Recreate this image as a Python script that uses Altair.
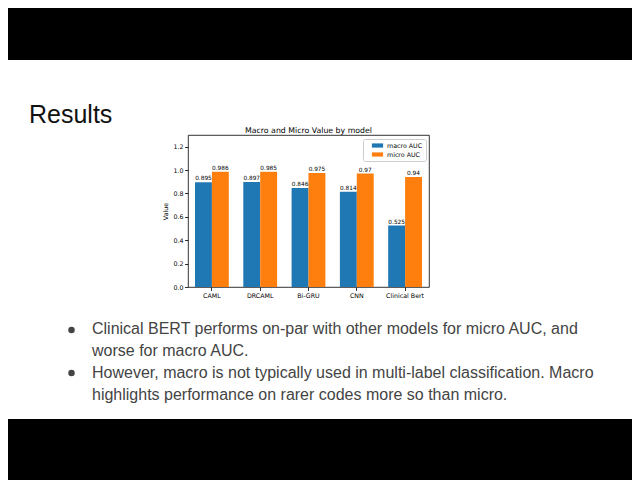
import altair as alt
import pandas as pd

models = ["CAML", "DRCAML", "Bi-GRU", "CNN", "Clinical Bert"]
macro_auc = [0.895, 0.897, 0.846, 0.814, 0.525]
micro_auc = [0.986, 0.985, 0.975, 0.97, 0.94]
series = ["macro AUC", "micro AUC"]
colors = ["#1f77b4", "#ff7f0e"]
y_ticks = [0.0, 0.2, 0.4, 0.6, 0.8, 1.0, 1.2]

plot_title = "Macro and Micro Value by model"
slide_title = "Results"
bullet_1 = "Clinical BERT performs on-par with other models for micro AUC, and\nworse for macro AUC."
bullet_2 = "However, macro is not typically used in multi-label classification. Macro\nhighlights performance on rarer codes more so than micro."

rows = []
for m, a, b in zip(models, macro_auc, micro_auc):
    rows.append({"model": m, "metric": series[0], "value": a, "label": str(a)})
    rows.append({"model": m, "metric": series[1], "value": b, "label": str(b)})
df = pd.DataFrame(rows)

mpl_font = "DejaVu Sans"
slide_font = "Liberation Sans"
text_grey = "#444444"
one = pd.DataFrame({"k": [0]})

x = alt.X("model:N", sort=models, title=None,
          scale=alt.Scale(paddingInner=0.3, paddingOuter=0.145),
          axis=alt.Axis(labelAngle=0))
y = alt.Y("value:Q", title="Value",
          scale=alt.Scale(domain=[0, 1.3], nice=False),
          axis=alt.Axis(values=y_ticks, format=".1f"))
x_off = alt.XOffset("metric:N", sort=series,
                    scale=alt.Scale(paddingInner=0, paddingOuter=0))

bars = alt.Chart(df).mark_bar().encode(
    x=x, y=y, xOffset=x_off,
    color=alt.Color("metric:N", title=None,
                    scale=alt.Scale(domain=series, range=colors)),
)

values = alt.Chart(df).mark_text(
    baseline="alphabetic", dy=-2, fontSize=5.8, font=mpl_font, color="black"
).encode(x=x, y=y, xOffset=x_off, text="label:N")

title = alt.Chart(one).mark_text(
    baseline="alphabetic", fontSize=7.8, font=mpl_font, color="black"
).encode(x=alt.value(120.5), y=alt.value(-2.5), text=alt.value(plot_title))

# slide decoration, positioned relative to the plot area
top_band = alt.Chart(one).mark_rect(color="black").encode(
    x=alt.value(-200), x2=alt.value(460), y=alt.value(-140), y2=alt.value(-75))
bottom_band = alt.Chart(one).mark_rect(color="black").encode(
    x=alt.value(-200), x2=alt.value(460), y=alt.value(284), y2=alt.value(360))
heading = alt.Chart(one).mark_text(
    align="left", baseline="alphabetic", fontSize=25, font=slide_font, color="#111111"
).encode(x=alt.value(-159), y=alt.value(-12), text=alt.value(slide_title))
text_1 = alt.Chart(one).mark_text(
    align="left", baseline="alphabetic", fontSize=16, font=slide_font,
    color=text_grey, lineBreak="\n", lineHeight=22
).encode(x=alt.value(-96), y=alt.value(199), text=alt.value(bullet_1))
text_2 = alt.Chart(one).mark_text(
    align="left", baseline="alphabetic", fontSize=16, font=slide_font,
    color=text_grey, lineBreak="\n", lineHeight=21.5
).encode(x=alt.value(-96), y=alt.value(243), text=alt.value(bullet_2))
dot_1 = alt.Chart(one).mark_point(shape="circle", filled=True, size=42, opacity=1, color=text_grey).encode(
    x=alt.value(-116.5), y=alt.value(195))
dot_2 = alt.Chart(one).mark_point(shape="circle", filled=True, size=42, opacity=1, color=text_grey).encode(
    x=alt.value(-116.5), y=alt.value(238))

chart = alt.layer(
    top_band, bottom_band, heading, text_1, text_2, dot_1, dot_2, title, bars, values,
).properties(
    width=241, height=152,
    padding={"left": 180, "top": 127, "right": 203, "bottom": 193},
    autosize=alt.AutoSizeParams(type="none"),
    background="white",
).configure_view(
    stroke="black", strokeWidth=0.8
).configure_axis(
    domain=False, grid=False, ticks=True, tickSize=3.5, tickWidth=0.8, tickColor="black",
    labelFont=mpl_font, labelFontSize=6.3, labelColor="black", labelPadding=1.5,
    titleFont=mpl_font, titleFontSize=6.3, titleFontWeight="normal", titleColor="black",
    titlePadding=4,
).configure_legend(
    orient="none", legendX=175, legendY=4, padding=3,
    strokeColor="#cccccc", fillColor="white", cornerRadius=2,
    labelFont=mpl_font, labelFontSize=6.3, labelColor="black", labelOffset=6,
    symbolType="M-1.6,-0.6L1.6,-0.6L1.6,0.6L-1.6,0.6Z", symbolSize=49,
    symbolStrokeWidth=0, symbolOffset=8, rowPadding=2,
)

chart.save("out.html", embed_options={"renderer": "svg", "actions": False})
